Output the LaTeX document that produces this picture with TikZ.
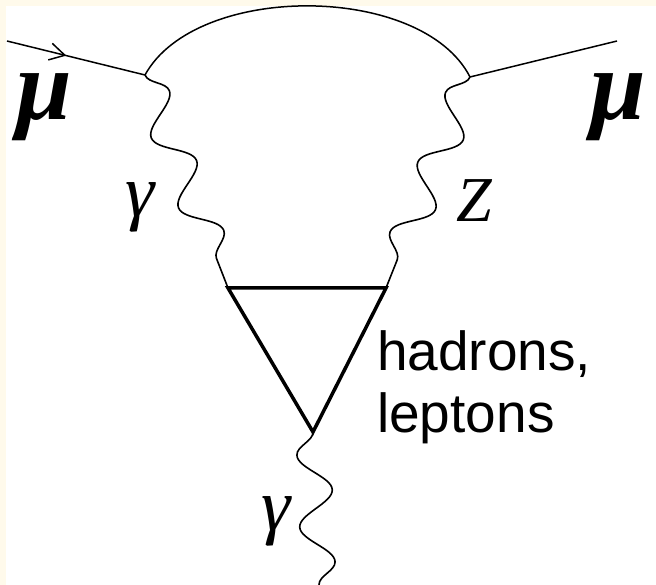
\documentclass[tikz,border=0pt]{standalone}
\usepackage{fontspec}
\usepackage{tikz}
\usetikzlibrary{decorations.pathmorphing,decorations.markings,arrows.meta}
\newfontfamily\labelserif{Liberation Serif}
\newfontfamily\labelsans{Liberation Sans}
\definecolor{paper}{HTML}{FFFAEB}

\begin{document}
\begin{tikzpicture}[x=1pt, y=-1pt,
    fermion/.style={line width=1.5pt},
    photon/.style={line width=1.6pt, decorate,
      decoration={snake, segment length=75pt, amplitude=17pt}},
    loopline/.style={line width=3.5pt, line join=miter},
    every node/.style={inner sep=0pt}]
    % Page
    \useasboundingbox (0,0) rectangle (656,585);
    \fill[white] (0,0) rectangle (656,585);
    \fill[paper] (0,0) rectangle (656,6);
    \fill[paper] (0,0) rectangle (6,585);

    % Vertices
    \coordinate (mu-in) at (7,41);
    \coordinate (v1) at (145,75);
    \coordinate (v2) at (470,77);
    \coordinate (mu-out) at (617,41);
    \coordinate (t1) at (228,288);
    \coordinate (t2) at (386,288);
    \coordinate (t3) at (313,432);
    \coordinate (gamma-out) at (319,585);

    % Muon line
    \draw[fermion, postaction={decorate}, decoration={markings,
      mark=at position 0.43 with {\arrow{Straight Barb[length=15pt,width=17pt]}}}]
      (mu-in) -- (v1);
    \draw[fermion] (v1) .. controls (196,-18) and (422,-17) .. (v2);
    \draw[fermion] (v2) -- (mu-out);

    % Photons
    \draw[photon] (v1) -- (t1);
    \draw[photon, decoration={mirror}] (v2) -- (t2);
    \draw[photon, decoration={mirror, segment length=72pt}] (t3) -- (gamma-out);

    % Loop
    \draw[loopline] (t1) -- (t2) -- (t3) -- cycle;

    % Labels
    \node[font=\labelserif\bfseries\itshape\fontsize{100}{100}\selectfont, anchor=base]
      (mu-left) at (44,120) {μ};
    \node[font=\labelserif\bfseries\itshape\fontsize{100}{100}\selectfont, anchor=base]
      (mu-right) at (618,120) {μ};
    \node[font=\labelserif\itshape\fontsize{74}{74}\selectfont, anchor=base]
      (gamma-left) at (140,217) {γ};
    \node[font=\labelserif\itshape\fontsize{64}{64}\selectfont, anchor=base]
      (z-label) at (474,222) {Z};
    \node[font=\labelserif\itshape\fontsize{74}{74}\selectfont, anchor=base]
      (gamma-bottom) at (276,530) {γ};
    \node[font=\labelsans\fontsize{55}{62}\selectfont, align=left, anchor=base west]
      (loop-label) at (377,432) {hadrons,\\leptons};
\end{tikzpicture}
\end{document}
